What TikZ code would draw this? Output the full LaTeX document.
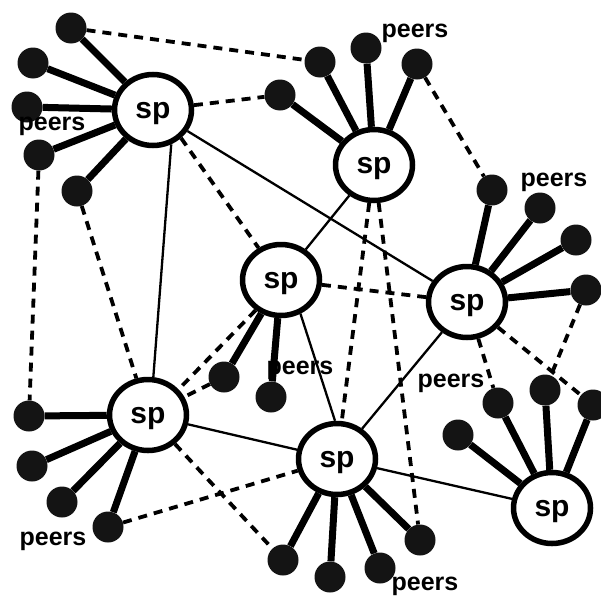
\documentclass[tikz,border=0pt]{standalone}
\usepackage{fontspec}
\setmainfont{Liberation Sans}
\usetikzlibrary{shapes.geometric}
\begin{document}
\begin{tikzpicture}[x=1pt,y=-1pt,
  spnode/.style={ellipse,draw=black,fill=white,line width=5.5pt,minimum width=77pt,minimum height=71pt,inner sep=0pt,text depth=0pt,font=\fontsize{30}{30}\selectfont\bfseries},
  peer/.style={circle,fill=black!92,minimum size=31pt,inner sep=0pt},
  spoke/.style={line width=7pt},
  link/.style={line width=2.3pt},
  dlink/.style={line width=3.8pt,dash pattern=on 9pt off 7pt},
  lbl/.style={font=\fontsize{25}{25}\selectfont\bfseries,inner sep=0pt}]
\useasboundingbox (0,0) rectangle (601,597);
% super peers
\node[spnode] (s1) at (153,110) {sp};
\node[spnode] (s2) at (374,165) {sp};
\node[spnode] (s3) at (281,280) {sp};
\node[spnode] (s4) at (467,302) {sp};
\node[spnode] (s5) at (148,415) {sp};
\node[spnode] (s6) at (337,459) {sp};
\node[spnode] (s7) at (552,508) {sp};
% peers
\node[peer] (p11) at (71,28) {};
\node[peer] (p12) at (33,63) {};
\node[peer] (p13) at (27,107) {};
\node[peer] (p14) at (39,155) {};
\node[peer] (p15) at (77,191) {};
\node[peer] (p21) at (280,95) {};
\node[peer] (p22) at (320,62) {};
\node[peer] (p23) at (366,48) {};
\node[peer] (p24) at (417,64) {};
\node[peer] (p31) at (224,377) {};
\node[peer] (p32) at (271,397) {};
\node[peer] (p41) at (492,190) {};
\node[peer] (p42) at (540,208) {};
\node[peer] (p43) at (576,240) {};
\node[peer] (p44) at (586,290) {};
\node[peer] (p51) at (29,416) {};
\node[peer] (p52) at (32,466) {};
\node[peer] (p53) at (62,502) {};
\node[peer] (p54) at (108,527) {};
\node[peer] (p61) at (283,560) {};
\node[peer] (p62) at (330,577) {};
\node[peer] (p63) at (380,568) {};
\node[peer] (p64) at (420,540) {};
\node[peer] (p71) at (458,435) {};
\node[peer] (p72) at (498,403) {};
\node[peer] (p73) at (545,390) {};
\node[peer] (p74) at (593,405) {};
% spokes
\foreach \s/\p in {s1/p11,s1/p12,s1/p13,s1/p14,s1/p15,s2/p21,s2/p22,s2/p23,s2/p24,
  s3/p31,s3/p32,s4/p41,s4/p42,s4/p43,s4/p44,s5/p51,s5/p52,s5/p53,s5/p54,
  s6/p61,s6/p62,s6/p63,s6/p64,s7/p71,s7/p72,s7/p73,s7/p74}
  \draw[spoke] (\s) -- (\p);
% solid links
\draw[link] (s1.-62) -- (s5.82);
\draw[link] (s1) -- (s4);
\draw[link] (s2) -- (s3);
\draw[link] (s3.-60) -- (s6.93);
\draw[link] (s4) -- (s6);
\draw[link] (s5) -- (s6);
\draw[link] (s6) -- (s7);
% dashed links
\draw[dlink] (p11) -- (p22);
\draw[dlink] (s1) -- (p21);
\draw[dlink] (p14) -- (p51);
\draw[dlink] (p15) -- (s5);
\draw[dlink] (s1.-45) -- (s3.125);
\draw[dlink] (p24) -- (p41);
\draw[dlink] (s2) -- (s6);
\draw[dlink] (s2) -- (p64);
\draw[dlink] (s3) -- (s4);
\draw[dlink] (s3.-130) -- (s5.40);
\draw[dlink] (p31) -- (s5);
\draw[dlink] (s5) -- (p61);
\draw[dlink] (p54) -- (s6);
\draw[dlink] (s4) -- (p74);
\draw[dlink] (p44) -- (p73);
\draw[dlink] (s4) -- (p72);
% labels
\node[lbl] (l1) at (52,126) {peers};
\node[lbl] (l2) at (415,33) {peers};
\node[lbl] (l3) at (554,182) {peers};
\node[lbl] (l4) at (300,370) {peers};
\node[lbl] (l5) at (451,383) {peers};
\node[lbl] (l6) at (53,541) {peers};
\node[lbl] (l7) at (425,586) {peers};
\end{tikzpicture}
\end{document}
